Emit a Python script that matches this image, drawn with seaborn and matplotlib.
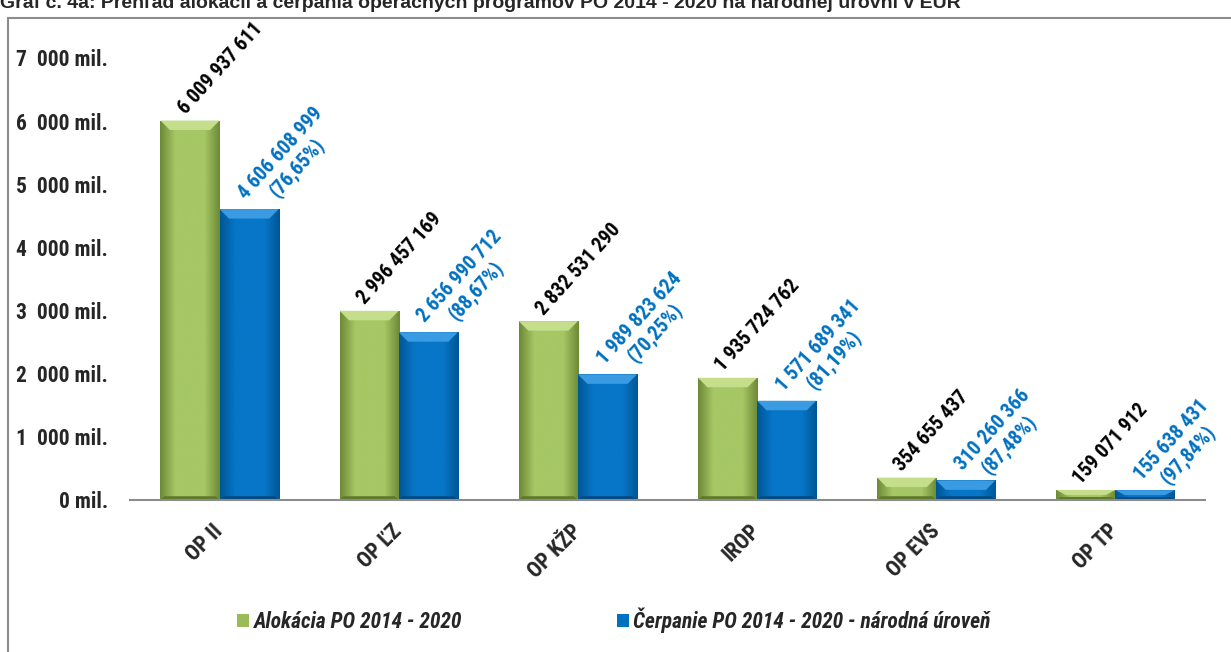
"""Prehľad alokácií a čerpania operačných programov PO 2014 - 2020."""

import matplotlib

matplotlib.use("Agg")

import matplotlib.pyplot as plt
import numpy as np
import pandas as pd
import seaborn as sns
from matplotlib.colors import LinearSegmentedColormap
from matplotlib.patches import Polygon, Rectangle


PROGRAMS = ["OP II", "OP ĽZ", "OP KŽP", "IROP", "OP EVS", "OP TP"]
ALOKACIA = [6009937611, 2996457169, 2832531290, 1935724762, 354655437, 159071912]
CERPANIE = [4606608999, 2656990712, 1989823624, 1571689341, 310260366, 155638431]
CERPANIE_PCT = ["76,65%", "88,67%", "70,25%", "81,19%", "87,48%", "97,84%"]
SERIES = ["Alokácia PO 2014 - 2020", "Čerpanie PO 2014 - 2020 - národná úroveň"]
Y_TICKS = [0, 1000, 2000, 3000, 4000, 5000, 6000, 7000]
TITLE = (
    "Graf č. 4a: Prehľad alokácií a čerpania operačných programov "
    "PO 2014 - 2020 na národnej úrovni v EUR"
)

GREEN = "#9bbb59"
BLUE = "#0070c0"
LABEL_BLUE = "#0070c0"
NARROW = ["Roboto Condensed", "Liberation Sans", "DejaVu Sans"]


def fmt_eur(value: int) -> str:
    return f"{value:,}".replace(",", " ")


def fmt_tick(value: int) -> str:
    if value == 0:
        return "0 mil."
    return f"{value // 1000}  000 mil."


def shade_bar(ax, patch, dark: str, light: str, top_light: str, bottom_dark: str) -> None:
    x0, y0 = patch.get_x(), patch.get_y()
    w, h = patch.get_width(), patch.get_height()
    cmap = LinearSegmentedColormap.from_list("bar", [dark, light, light, light, dark])
    grad = np.linspace(0, 1, 64).reshape(1, -1)
    im = ax.imshow(
        grad,
        cmap=cmap,
        extent=(x0, x0 + w, y0, y0 + h),
        aspect="auto",
        interpolation="bilinear",
        zorder=patch.get_zorder() + 0.1,
    )
    im.set_clip_path(patch)
    dx = w * 0.16
    dy = min(150, h * 0.5)
    ax.add_patch(
        Polygon(
            [(x0, y0 + h), (x0 + w, y0 + h), (x0 + w - dx, y0 + h - dy), (x0 + dx, y0 + h - dy)],
            closed=True,
            facecolor=top_light,
            edgecolor="none",
            zorder=patch.get_zorder() + 0.2,
        )
    )
    by = min(60, h * 0.3)
    ax.add_patch(
        Polygon(
            [(x0, y0), (x0 + w, y0), (x0 + w - dx * 0.4, y0 + by), (x0 + dx * 0.4, y0 + by)],
            closed=True,
            facecolor=bottom_dark,
            edgecolor="none",
            zorder=patch.get_zorder() + 0.2,
        )
    )


def main() -> None:
    sns.set_theme(style="white")
    plt.rcParams["font.family"] = NARROW

    data = pd.DataFrame(
        {
            "program": PROGRAMS * 2,
            "series": [SERIES[0]] * len(PROGRAMS) + [SERIES[1]] * len(PROGRAMS),
            "value": [v / 1e6 for v in ALOKACIA] + [v / 1e6 for v in CERPANIE],
        }
    )

    fig = plt.figure(figsize=(12.31, 6.52), dpi=100)
    ax = fig.add_axes([130 / 1231, 1 - 500 / 652, (1205 - 130) / 1231, (500 - 58) / 652])

    sns.barplot(
        data=data,
        x="program",
        y="value",
        hue="series",
        hue_order=SERIES,
        order=PROGRAMS,
        palette=[GREEN, BLUE],
        width=0.66,
        saturation=1,
        linewidth=0,
        ax=ax,
    )

    ax.set_xlim(-0.5, len(PROGRAMS) - 0.5)
    ax.set_ylim(0, 7000)

    green_bars, blue_bars = ax.containers[0], ax.containers[1]
    for patch in green_bars:
        shade_bar(ax, patch, "#6d8a36", "#a6c765", "#c4de8c", "#5f7a2c")
    for patch in blue_bars:
        shade_bar(ax, patch, "#005795", "#0776c8", "#3b9be2", "#004a80")

    for patch, value in zip(green_bars, ALOKACIA):
        ax.annotate(
            fmt_eur(value),
            xy=(patch.get_x() + patch.get_width() / 2, patch.get_height()),
            xytext=(-1, 2),
            textcoords="offset points",
            rotation=48,
            rotation_mode="anchor",
            ha="left",
            va="bottom",
            fontsize=14.5,
            fontweight="bold",
            color="black",
            annotation_clip=False,
        )
    for patch, value, pct in zip(blue_bars, CERPANIE, CERPANIE_PCT):
        ax.annotate(
            f"{fmt_eur(value)}\n({pct})",
            xy=(patch.get_x() + patch.get_width() / 2, patch.get_height()),
            xytext=(12, -6),
            textcoords="offset points",
            rotation=48,
            rotation_mode="anchor",
            ha="left",
            va="bottom",
            multialignment="center",
            linespacing=1.1,
            fontsize=14.5,
            fontweight="bold",
            color=LABEL_BLUE,
            annotation_clip=False,
        )

    ax.set_yticks(Y_TICKS)
    ax.set_yticklabels([fmt_tick(t) for t in Y_TICKS], fontsize=15.5, fontweight="bold")
    ax.tick_params(axis="y", length=0, pad=16)
    ax.set_xticks(range(len(PROGRAMS)))
    ax.set_xticklabels(PROGRAMS, fontsize=15.5, fontweight="bold", rotation=45,
                       ha="right", va="center", rotation_mode="anchor")
    ax.tick_params(axis="x", length=0, pad=20)
    ax.set_xlabel("")
    ax.set_ylabel("")

    for side in ["left", "right", "top"]:
        ax.spines[side].set_visible(False)
    ax.spines["bottom"].set_color("#8c8c8c")
    ax.spines["bottom"].set_linewidth(1.5)
    ax.spines["bottom"].set_zorder(5)

    handles, labels = ax.get_legend_handles_labels()
    ax.get_legend().remove()
    fig.legend(
        handles,
        labels,
        loc="center",
        bbox_to_anchor=(614 / 1231, 1 - 620 / 652),
        ncol=2,
        frameon=False,
        handlelength=0.55,
        handleheight=0.55,
        handletextpad=0.2,
        columnspacing=7.2,
        prop={"family": NARROW, "size": 15.5, "weight": "bold", "style": "italic"},
    )

    fig.text(
        0.0,
        1 - 8 / 652,
        TITLE,
        ha="left",
        va="baseline",
        fontsize=14,
        fontweight="bold",
        family=["Liberation Sans", "DejaVu Sans"],
    )
    fig.patches.append(
        Rectangle(
            (8 / 1231, -0.1),
            1.5,
            1 - 18 / 652 + 0.1,
            transform=fig.transFigure,
            fill=False,
            edgecolor="#8c8c8c",
            linewidth=1.5,
        )
    )

    fig.savefig("out.png", dpi=100)
    plt.close(fig)


if __name__ == "__main__":
    main()
